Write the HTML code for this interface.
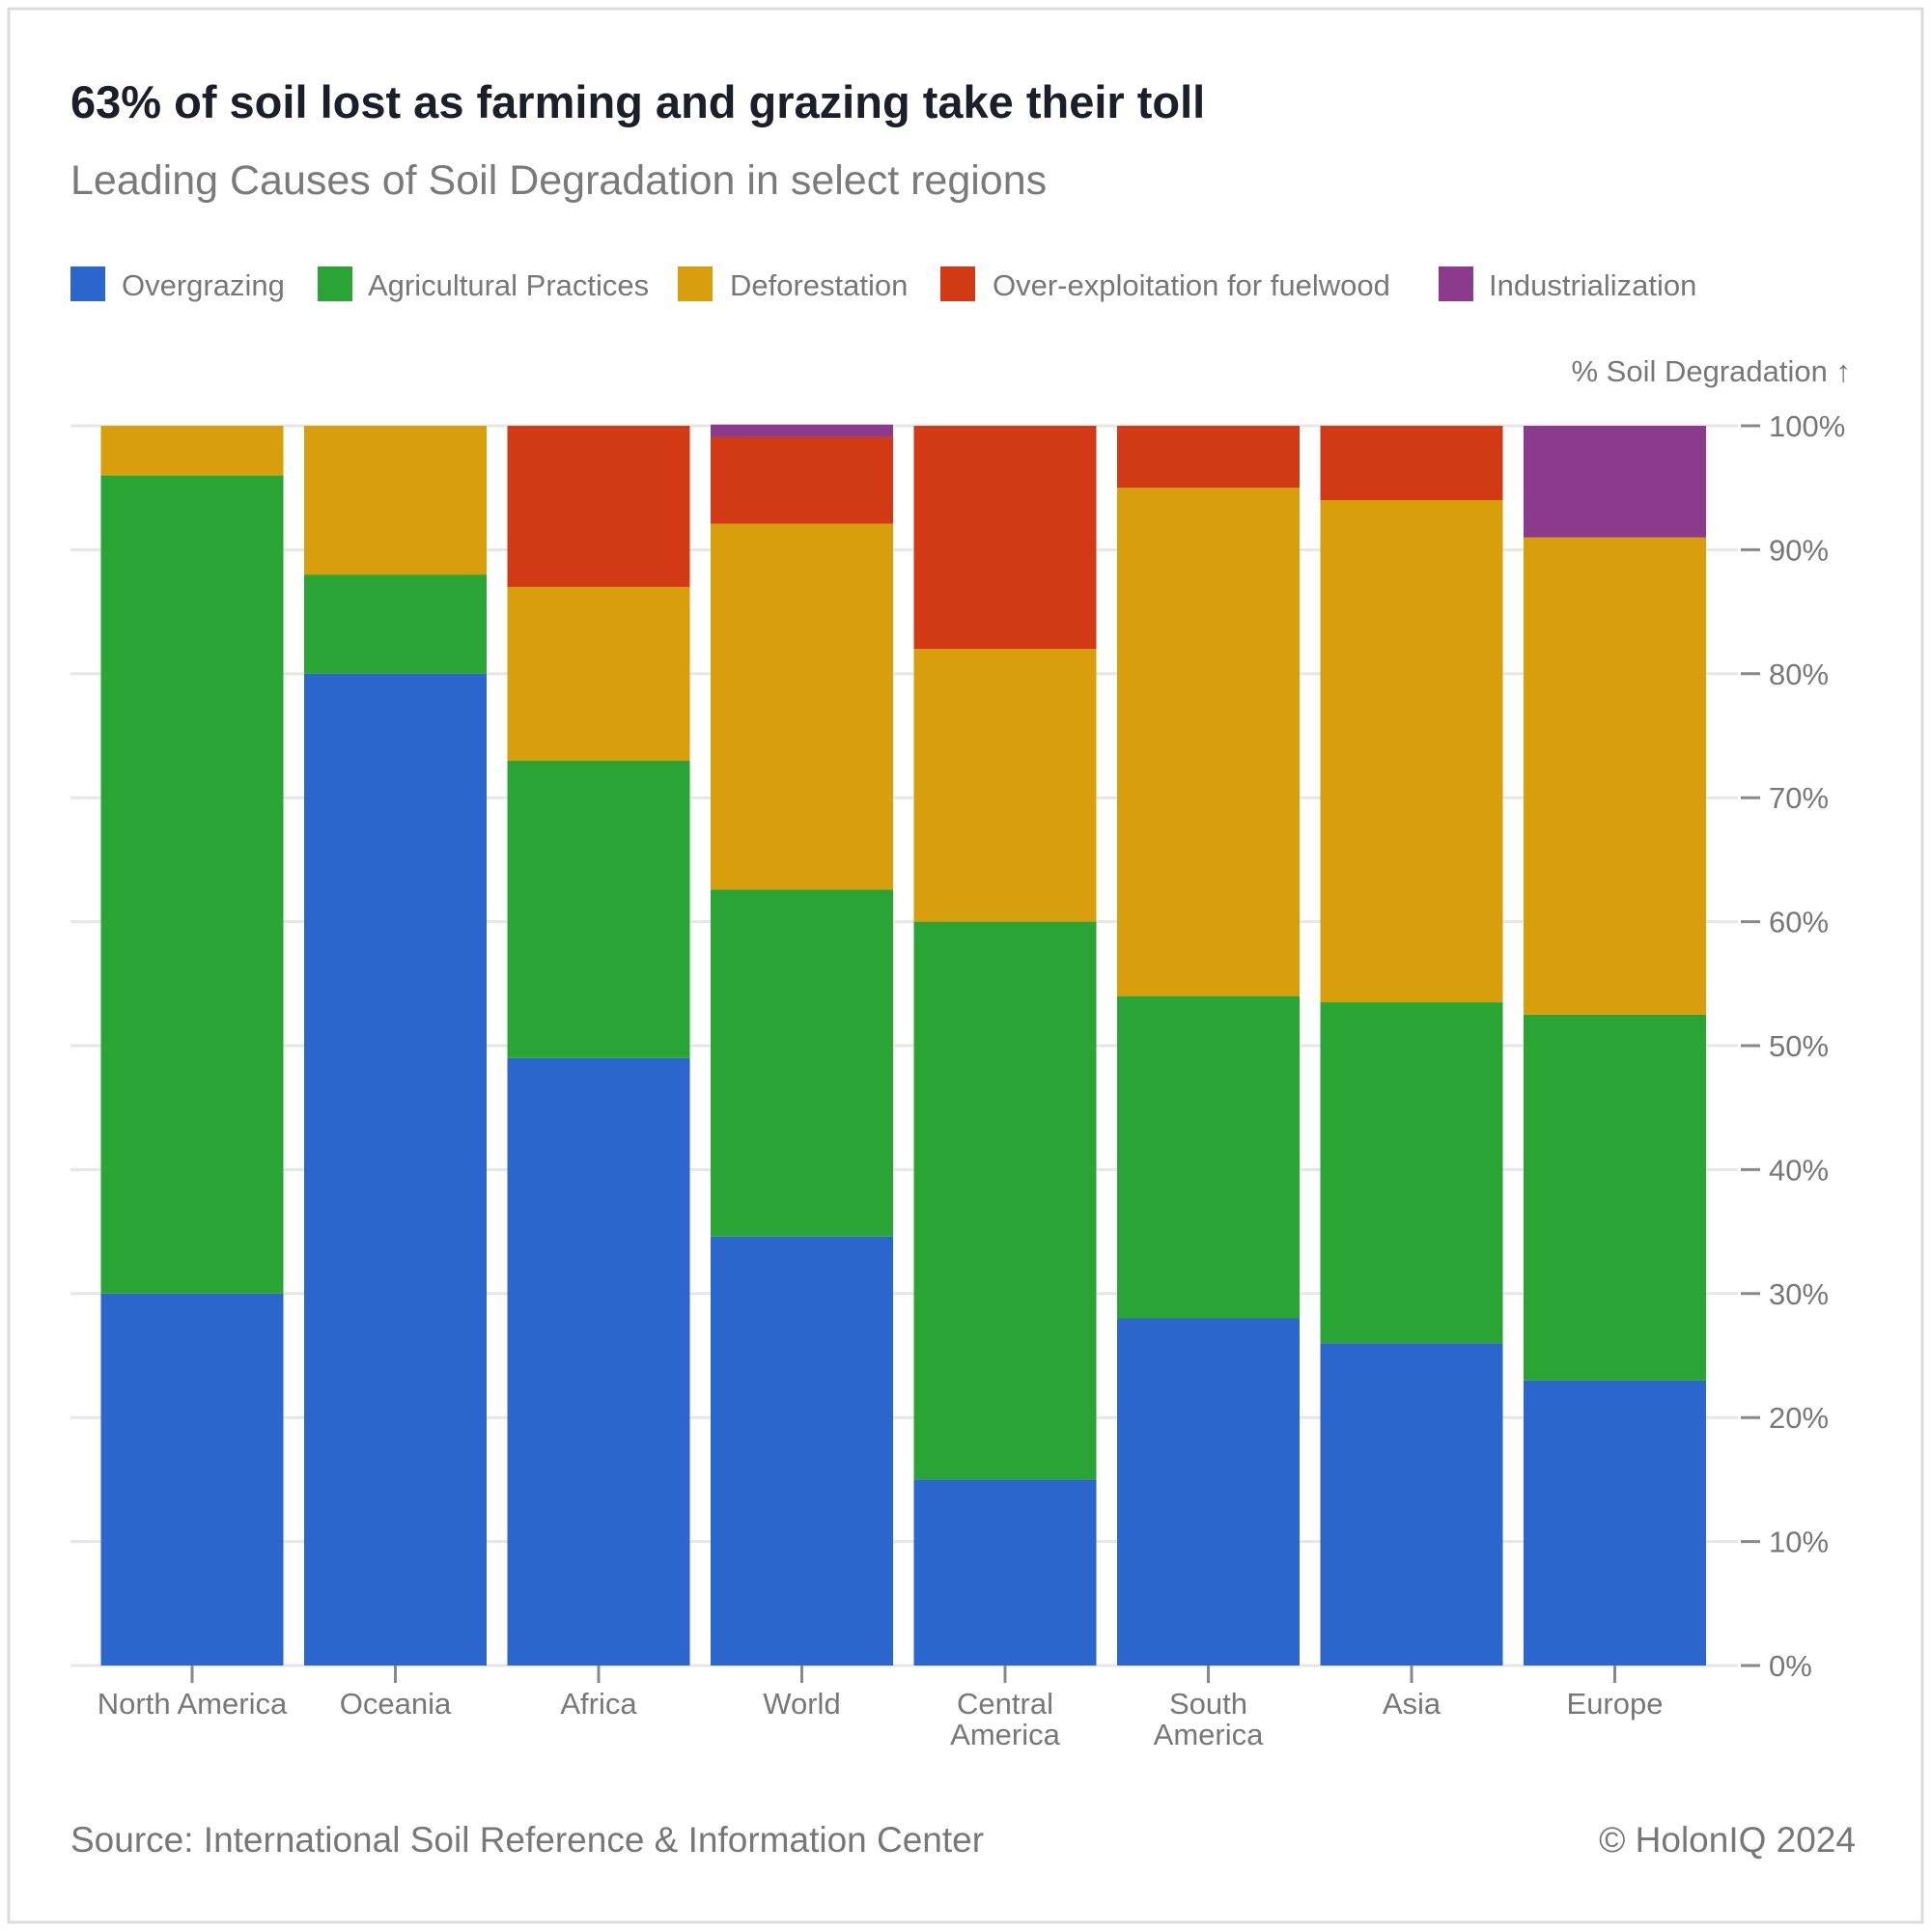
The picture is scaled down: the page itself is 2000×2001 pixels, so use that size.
<!DOCTYPE html>
<html><head><meta charset="utf-8"><style>
html,body{margin:0;padding:0;background:#fff;}
svg{display:block;font-family:"Liberation Sans",sans-serif;}
</style></head><body>
<svg id="c" width="2000" height="2001" viewBox="0 0 2000 2001">
<rect x="9" y="9" width="1982" height="1982" fill="#fff" stroke="#dcdcdc" stroke-width="3"/>
<text x="73" y="122" font-size="47" font-weight="bold" fill="#1b1f2a">63% of soil lost as farming and grazing take their toll</text>
<text x="73" y="201" font-size="43" fill="#7a7a7a">Leading Causes of Soil Degradation in select regions</text>
<g id="legend"></g>
<text x="1917" y="395" font-size="31" fill="#777" text-anchor="end">% Soil Degradation ↑</text>
<g id="grid"></g><g id="bars"></g><g id="axes"></g>
<text x="73" y="1918" font-size="37" fill="#777">Source: International Soil Reference &amp; Information Center</text>
<text x="1922" y="1918" font-size="37" fill="#777" text-anchor="end">© HolonIQ 2024</text>
</svg>
<script>
const categories = [["North America"],["Oceania"],["Africa"],["World"],["Central","America"],["South","America"],["Asia"],["Europe"]];
const seriesNames = ["Overgrazing","Agricultural Practices","Deforestation","Over-exploitation for fuelwood","Industrialization"];
const overgrazing = [30,80,49,34.6,15,28,26,23];
const agricultural = [66,8,24,28,45,26,27.5,29.5];
const deforestation = [4,12,14,29.5,22,41,40.5,38.5];
const fuelwood = [0,0,13,7,18,5,6,0];
const industrialization = [0,0,0,1,0,0,0,9];
const yTicks = [0,10,20,30,40,50,60,70,80,90,100];
const yTickLabels = ["0%","10%","20%","30%","40%","50%","60%","70%","80%","90%","100%"];
const colors = ["#2a66cc","#2aa535","#d89e0c","#d13a14","#8c3a8c"];
const series = [overgrazing,agricultural,deforestation,fuelwood,industrialization];

const NS="http://www.w3.org/2000/svg";
const plotTop=441, plotBottom=1725, plotLeft=73, plotRight=1800;
const x0=104.5, step=210.5, barW=189;
function yScale(v){return plotBottom-(v/100)*(plotBottom-plotTop);}
function xScale(i){return x0+i*step;}
function mk(tag,attrs,parent){const e=document.createElementNS(NS,tag);for(const k in attrs)e.setAttribute(k,attrs[k]);parent.appendChild(e);return e;}

const legend=document.getElementById('legend');
const lsq=[73,329,702,974,1490], ltx=[126,381,756,1028,1542];
seriesNames.forEach((n,i)=>{
  const r=mk('rect',{x:lsq[i],y:276,width:36,height:36,fill:colors[i]},legend);
  
  
  const t=mk('text',{x:ltx[i],y:306,'font-size':31,fill:'#777'},legend);
  t.textContent=n;
  
  
});

const grid=document.getElementById('grid'), axes=document.getElementById('axes');
yTicks.forEach((v,i)=>{
  const y=yScale(v);
  const l=mk('line',{x1:plotLeft,x2:plotRight,y1:y,y2:y,stroke:'#e6e6e6','stroke-width':3},grid);
  
  
  const tk=mk('line',{x1:1803,x2:1823,y1:y,y2:y,stroke:'#888','stroke-width':3},axes);
  
  
  const t=mk('text',{x:1832,y:y+11,'font-size':31,fill:'#777'},axes);
  t.textContent=yTickLabels[i];
  
  
});

const bars=document.getElementById('bars');
categories.forEach((c,i)=>{
  let cum=0;
  series.forEach((s,j)=>{
    const v=s[i]; if(v<=0)return;
    const yT=yScale(cum+v), yB=yScale(cum);
    const r=mk('rect',{x:xScale(i),y:yT,width:barW,height:yB-yT,fill:colors[j]},bars);
    
    
    cum+=v;
  });
  const cx=xScale(i)+barW/2;
  const tk=mk('line',{x1:cx,x2:cx,y1:plotBottom,y2:plotBottom+18,stroke:'#888','stroke-width':3},axes);
  
  
  c.forEach((line,k)=>{
    const t=mk('text',{x:cx,y:1775+k*32,'font-size':31,fill:'#777','text-anchor':'middle'},axes);
    t.textContent=line;
    
    
  });
});
</script>
</body></html>
